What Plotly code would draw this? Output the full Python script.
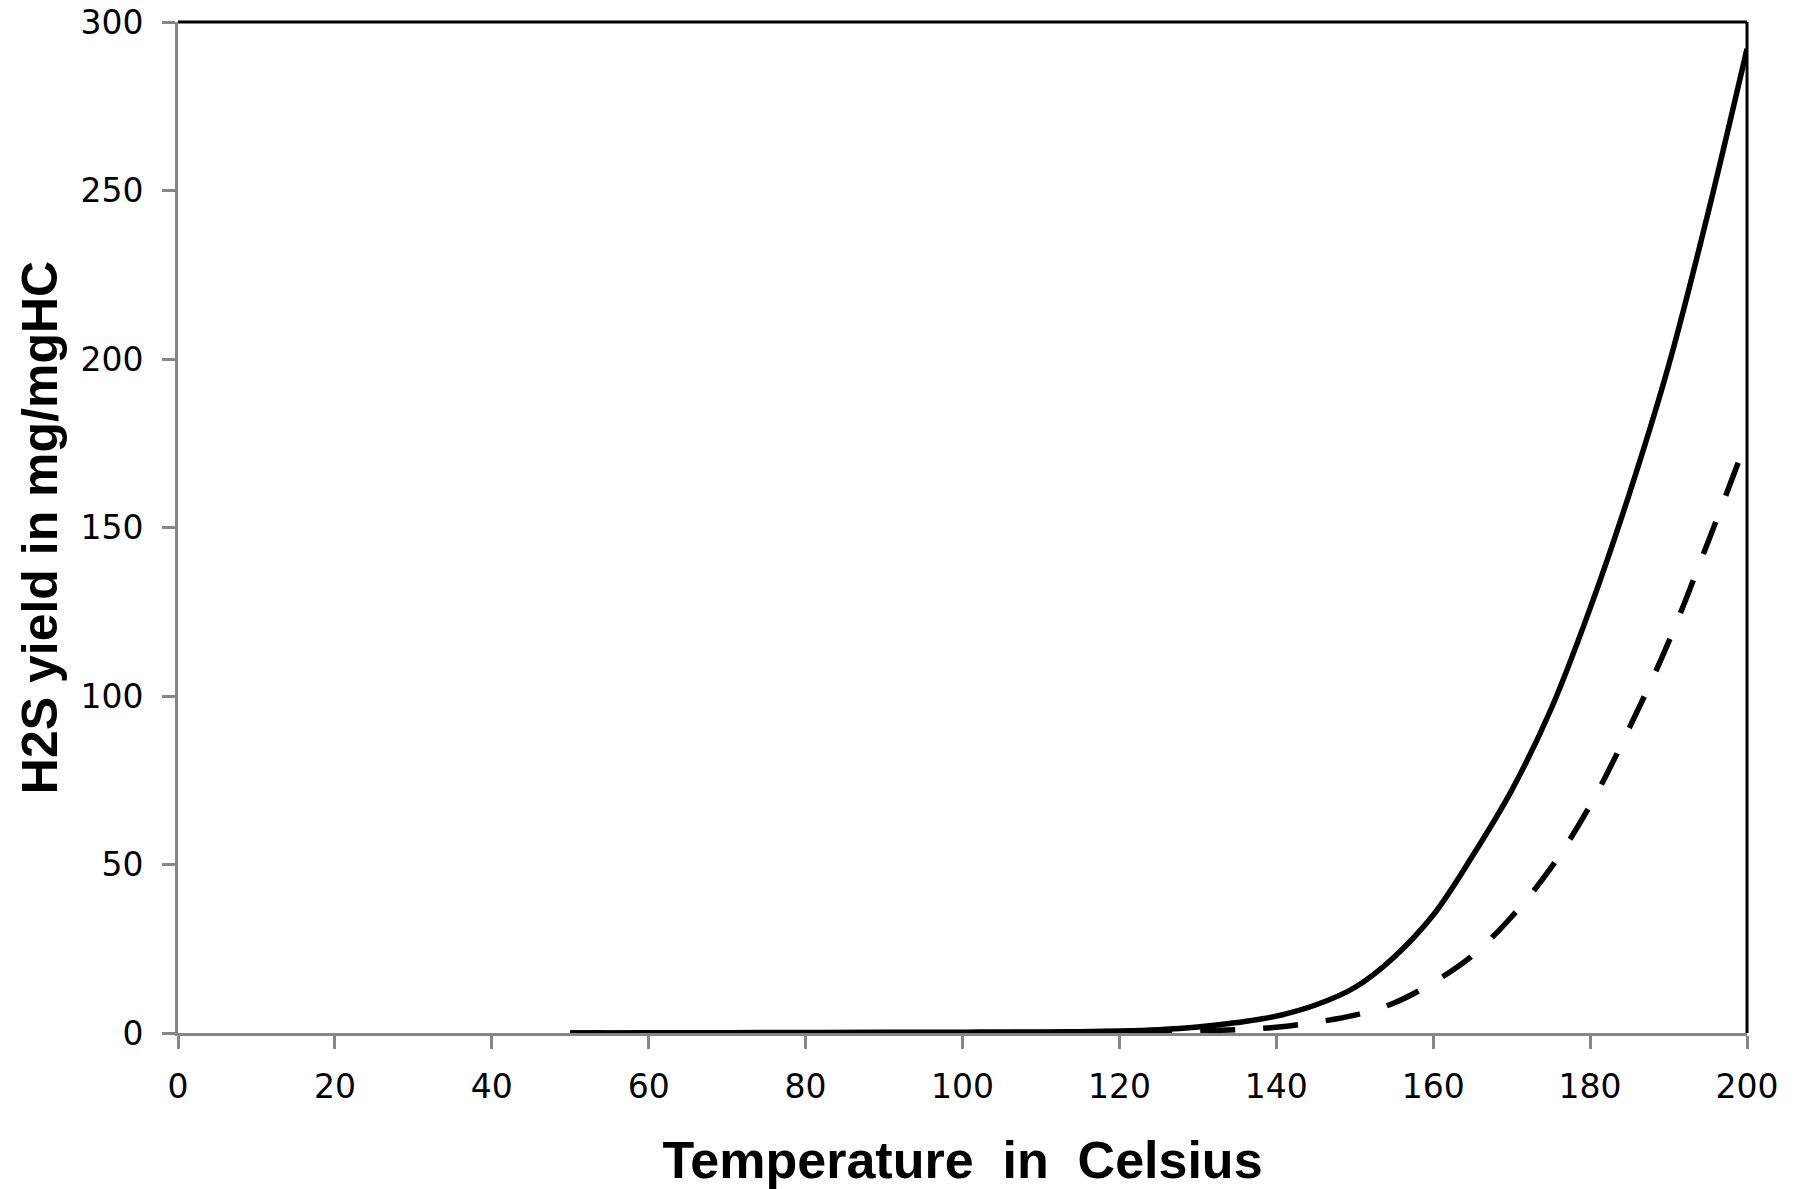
import plotly.graph_objects as go

# Temperature (Celsius) sample points
temp_solid = [50, 60, 70, 80, 90, 100, 110, 115, 120, 125, 130, 135, 140, 145, 150,
              155, 160, 165, 170, 175, 180, 185, 190, 195, 200]
yield_solid = [0.0, 0.05, 0.1, 0.15, 0.2, 0.25, 0.3, 0.4, 0.6, 1.0, 1.8, 3.1, 5.0, 8.3, 13.5,
               22.5, 35, 52.5, 72, 96, 126, 160, 198, 243, 292]

temp_dashed = [50, 60, 70, 80, 90, 100, 110, 120, 125, 130, 135, 140, 145, 150,
               155, 160, 165, 170, 175, 180, 185, 190, 195, 199]
yield_dashed = [0.0, 0.0, 0.0, 0.0, 0.05, 0.1, 0.15, 0.3, 0.4, 0.6, 1.0, 1.7, 3.2, 5.3,
                8.9, 15, 23, 34.5, 49, 67.5, 90.5, 116, 145.5, 170]

x_ticks = [0, 20, 40, 60, 80, 100, 120, 140, 160, 180, 200]
y_ticks = [0, 50, 100, 150, 200, 250, 300]

x_title = "Temperature  in  Celsius"
y_title = "H2S yield in mg/mgHC"

fig = go.Figure()
fig.add_trace(go.Scatter(x=temp_dashed, y=yield_dashed, mode="lines",
                         line=dict(color="black", width=5.5, dash="35px,28px", shape="spline"),
                         showlegend=False))
fig.add_trace(go.Scatter(x=temp_solid, y=yield_solid, mode="lines",
                         line=dict(color="black", width=5.5, shape="spline"),
                         showlegend=False))

axis_gray = "#868686"
fig.update_xaxes(range=[0, 200], tickvals=x_ticks, showgrid=False, zeroline=False,
                 showline=True, linecolor=axis_gray, linewidth=3,
                 ticks="outside", ticklen=13, tickwidth=3, tickcolor=axis_gray,
                 tickfont=dict(family="DejaVu Sans", size=33, color="black"),
                 ticklabelstandoff=9, ticklabeloverflow="allow",
                 title=dict(text=x_title, standoff=70,
                            font=dict(family="Liberation Sans", size=52, color="black",
                                      weight="bold")))
fig.update_yaxes(range=[0, 300], tickvals=y_ticks, showgrid=False, zeroline=False,
                 showline=True, linecolor=axis_gray, linewidth=3,
                 ticks="outside", ticklen=13, tickwidth=3, tickcolor=axis_gray,
                 tickfont=dict(family="DejaVu Sans", size=33, color="black"),
                 ticklabelstandoff=12, ticklabeloverflow="allow",
                 title=dict(text=y_title, standoff=7,
                            font=dict(family="Liberation Sans", size=50, color="black",
                                      weight="bold")))

# black plot-area border on top and right
fig.add_shape(type="line", xref="x domain", yref="y domain", x0=0, x1=1, y0=1, y1=1,
              line=dict(color="black", width=3))
fig.add_shape(type="line", xref="x domain", yref="y domain", x0=1, x1=1, y0=0, y1=1,
              line=dict(color="black", width=3))

fig.update_layout(width=1803, height=1189,
                  margin=dict(l=178, r=56, t=22, b=156, autoexpand=False),
                  plot_bgcolor="white", paper_bgcolor="white")

fig.write_html("out.html", config={"displayModeBar": False},
               post_script="document.body.style.margin='0';")
